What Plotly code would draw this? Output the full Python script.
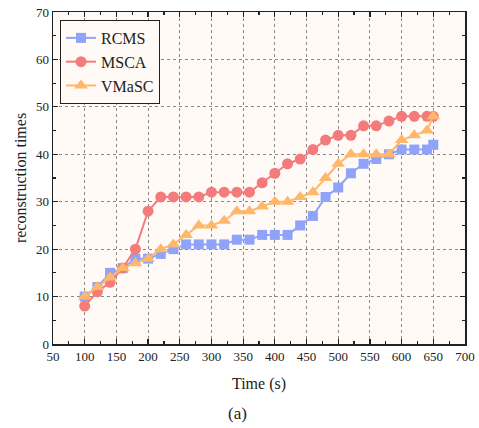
import plotly.graph_objects as go

time_s = [100, 120, 140, 160, 180, 200, 220, 240, 260, 280, 300, 320, 340, 360,
          380, 400, 420, 440, 460, 480, 500, 520, 540, 560, 580, 600, 620, 640, 650]

rcms = [10, 12, 15, 16, 18, 18, 19, 20, 21, 21, 21, 21, 22, 22,
        23, 23, 23, 25, 27, 31, 33, 36, 38, 39, 40, 41, 41, 41, 42]
msca = [8, 11, 13, 16, 20, 28, 31, 31, 31, 31, 32, 32, 32, 32,
        34, 36, 38, 39, 41, 43, 44, 44, 46, 46, 47, 48, 48, 48, 48]
vmasc = [10, 12, 14, 16, 17, 18, 20, 21, 23, 25, 25, 26, 28, 28,
         29, 30, 30, 31, 32, 35, 38, 40, 40, 40, 40, 43, 44, 45, 48]

series_names = ["RCMS", "MSCA", "VMaSC"]
series_colors = ["#8FA3FA", "#F47B7B", "#FFB86B"]
series_symbols = ["square", "circle", "triangle-up"]
series_sizes = [10, 11, 12]

FONT = "Liberation Serif"

fig = go.Figure()
for name, ys, col, sym, sz in zip(series_names, [rcms, msca, vmasc],
                                  series_colors, series_symbols, series_sizes):
    fig.add_trace(go.Scatter(
        x=time_s, y=ys, name=name, mode="lines+markers",
        line=dict(color=col, width=2),
        marker=dict(symbol=sym, size=sz, color=col, line=dict(width=0)),
    ))

axis_common = dict(
    showline=True, linecolor="#222", linewidth=1.5, mirror="allticks",
    ticks="inside", ticklen=5, tickwidth=1.2, tickcolor="#222",
    showgrid=True, gridcolor="#8a8a8a", griddash="dot", gridwidth=1,
    zeroline=False, automargin=False, ticklabeloverflow="allow",
    tickfont=dict(family=FONT, size=13, color="#222"),
)

fig.update_xaxes(
    range=[50, 700], dtick=50, tick0=50,
    minor=dict(ticks="inside", ticklen=3, dtick=25, tickcolor="#222", showgrid=False),
    title=dict(text="Time (s)", font=dict(family=FONT, size=16, color="#222"), standoff=14),
    **axis_common,
)
fig.update_yaxes(
    range=[0, 70], dtick=10, tick0=0,
    minor=dict(ticks="inside", ticklen=3, dtick=5, tickcolor="#222", showgrid=False),
    title=dict(text="reconstruction times", font=dict(family=FONT, size=16, color="#222"), standoff=5),
    **axis_common,
)

fig.update_layout(
    width=479, height=428,
    margin=dict(l=53, r=14, t=12, b=84),
    plot_bgcolor="#FFFAF5", paper_bgcolor="white",
    font=dict(family=FONT, color="#222"),
    legend=dict(
        x=0.017, y=0.976, xanchor="left", yanchor="top",
        bgcolor="rgba(255,250,245,1)", bordercolor="#222", borderwidth=1,
        font=dict(family=FONT, size=16, color="#222"),
        itemwidth=30, tracegroupgap=0,
    ),
    showlegend=True,
    hovermode=False,
    annotations=[dict(
        text="(a)", xref="paper", yref="paper", x=0.449, y=-0.208,
        xanchor="center", yanchor="middle", showarrow=False,
        font=dict(family=FONT, size=17, color="#222"),
    )],
)

fig.write_html(
    "out.html",
    config={"displayModeBar": False, "staticPlot": True},
    post_script="document.body.style.margin='0';document.body.style.overflow='hidden';",
)
